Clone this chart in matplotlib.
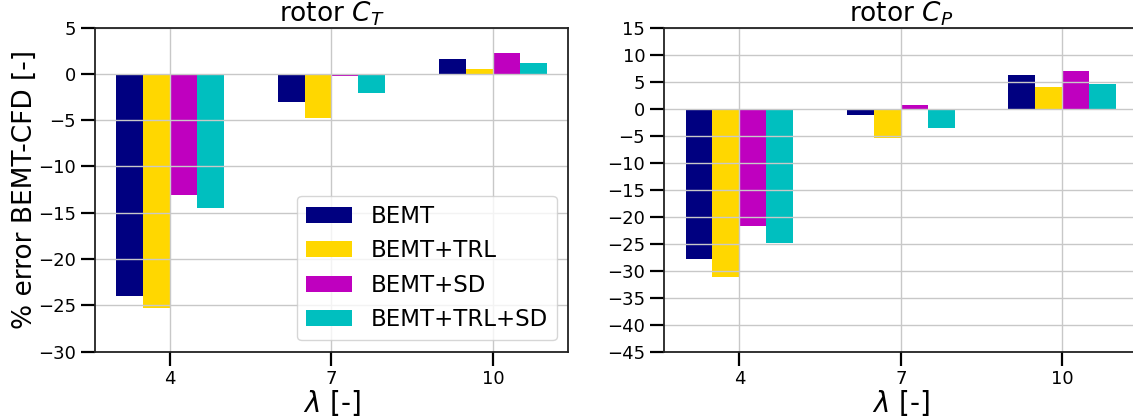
import matplotlib
matplotlib.use("Agg")
import matplotlib.pyplot as plt
import numpy as np

lambdas = [4, 7, 10]
series = ["BEMT", "BEMT+TRL", "BEMT+SD", "BEMT+TRL+SD"]
colors = ["navy", "gold", "m", "c"]

ct_bemt = [-24.0, -3.05, 1.55]
ct_trl = [-25.3, -4.8, 0.57]
ct_sd = [-13.1, -0.26, 2.2]
ct_trl_sd = [-14.5, -2.1, 1.22]

cp_bemt = [-27.8, -1.23, 6.27]
cp_trl = [-31.1, -5.5, 4.06]
cp_sd = [-21.7, 0.74, 7.0]
cp_trl_sd = [-24.85, -3.63, 4.6]

ct_ticks = list(range(-30, 6, 5))
cp_ticks = list(range(-45, 16, 5))

W, H = 1133, 419
fig = plt.figure(figsize=(W / 100, H / 100), dpi=100)

def px_axes(x0, x1, y_top, y_bot):
    return fig.add_axes([x0 / W, (H - y_bot) / H, (x1 - x0) / W, (y_bot - y_top) / H])

ax1 = px_axes(94.7, 568.3, 27.5, 351.7)
ax2 = px_axes(664.0, 1137.6, 27.5, 351.7)

width = 0.5
offsets = [-0.75, -0.25, 0.25, 0.75]
x = np.array(lambdas, dtype=float)

def draw(ax, data, title, ticks):
    for vals, off, col, lab in zip(data, offsets, colors, series):
        ax.bar(x + off, vals, width, color=col, label=lab)
    ax.set_title(title, fontsize=19, pad=3)
    ax.set_xticks(lambdas)
    ax.set_xticklabels([str(l) for l in lambdas])
    ax.set_yticks(ticks)
    ax.set_ylim(ticks[0], ticks[-1])
    ax.set_xlim(2.6, 11.4)
    ax.grid(True, color="#c8c8c8", linewidth=1.0)
    ax.set_xlabel(r"$\lambda$ [-]", fontsize=20, labelpad=0)
    ax.tick_params(axis="both", labelsize=13, length=10, width=1.6, direction="out")
    for sp in ax.spines.values():
        sp.set_linewidth(1.3)
        sp.set_color("#222222")

draw(ax1, [ct_bemt, ct_trl, ct_sd, ct_trl_sd], r"rotor $C_T$", ct_ticks)
draw(ax2, [cp_bemt, cp_trl, cp_sd, cp_trl_sd], r"rotor $C_P$", cp_ticks)
ax1.set_ylabel("% error BEMT-CFD [-]", fontsize=19, labelpad=0)
ax1.legend(loc="lower right", fontsize=16.5)

fig.savefig("out.png", dpi=100)
